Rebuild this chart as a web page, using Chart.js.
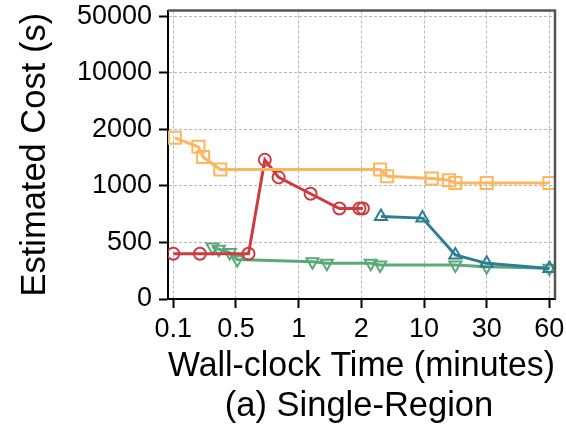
<!DOCTYPE html>
<html>
<head>
<meta charset="utf-8">
<script src="https://cdn.jsdelivr.net/npm/chart.js@4.4.1/dist/chart.umd.min.js"></script>
<style>
  html, body { margin: 0; padding: 0; background: #fff; }
  #wrap { width: 566px; height: 427px; }
</style>
</head>
<body>
<div id="wrap"><canvas id="costChart" width="566" height="427"></canvas></div>
<script>
// axis ticks are evenly spaced, values between them are placed linearly
const xTicks = [0.1, 0.5, 1, 2, 10, 30, 60];
const yTicks = [0, 500, 1000, 2000, 10000, 50000];

const orangeTime = [0.11, 0.26, 0.29, 0.4, 4.4, 5.3, 12.5, 18, 20, 30, 60];
const orangeCost = [1850, 1690, 1510, 1290, 1290, 1170, 1130, 1100, 1050, 1050, 1050];

const redTime = [0.1, 0.27, 0.6, 0.73, 0.84, 1.19, 1.65, 1.97, 2.2];
const redCost = [400, 400, 400, 1460, 1150, 930, 800, 800, 800];

const blueTime = [4.5, 9.8, 20, 30, 60];
const blueCost = [730, 715, 390, 315, 270];

const greenTime = [0.35, 0.39, 0.46, 0.51, 1.22, 1.45, 3.2, 4.4, 20, 30, 60];
const greenCost = [460, 440, 410, 350, 330, 315, 315, 300, 300, 285, 272];

const xTitle = "Wall-clock Time (minutes)";
const yTitle = "Estimated Cost (s)";
const captionText = "(a) Single-Region";

const FONT = "'Liberation Sans', Arial, Helvetica, sans-serif";

function pos(v, ticks) {
  for (let i = 0; i < ticks.length - 1; i++) {
    if (v <= ticks[i + 1] || i === ticks.length - 2) {
      return i + (v - ticks[i]) / (ticks[i + 1] - ticks[i]);
    }
  }
}

function toPoints(xs, ys) {
  return xs.map((x, i) => ({ x: pos(x, xTicks), y: pos(ys[i], yTicks) }));
}

function series(xs, ys, color, style, radius, rotation) {
  return {
    data: toPoints(xs, ys),
    borderColor: color,
    borderWidth: 3,
    pointStyle: style,
    pointRadius: radius,
    pointRotation: rotation || 0,
    pointBorderColor: color,
    pointBackgroundColor: "rgba(0,0,0,0)",
    pointBorderWidth: 2,
    tension: 0
  };
}

const captionPlugin = {
  id: "caption",
  afterDraw(chart) {
    const c = chart.ctx;
    const area = chart.chartArea;
    c.save();
    // top and right frame
    c.strokeStyle = "#555";
    c.lineWidth = 2.5;
    c.beginPath();
    c.moveTo(area.left, area.top);
    c.lineTo(area.right, area.top);
    c.lineTo(area.right, area.bottom);
    c.stroke();
    c.font = "34.5px " + FONT;
    c.fillStyle = "#000";
    c.textAlign = "center";
    c.textBaseline = "middle";
    c.fillText(captionText, 359, 406);
    c.restore();
  }
};

const gridOpts = {
  color: "#b8b8b8",
  lineWidth: 1,
  drawTicks: true,
  tickLength: 9,
  tickColor: "#000",
  tickWidth: 2
};

new Chart(document.getElementById("costChart"), {
  type: "line",
  data: {
    datasets: [
      series(orangeTime, orangeCost, "#fdb55e", "rect", 8.5),
      series(redTime, redCost, "#cf3a3f", "circle", 6),
      series(blueTime, blueCost, "#2d7d94", "triangle", 7),
      series(greenTime, greenCost, "#5aa979", "triangle", 7, 180)
    ]
  },
  options: {
    responsive: false,
    animation: false,
    devicePixelRatio: 1,
    layout: { padding: { top: 10, right: 11, bottom: 0, left: 0 } },
    plugins: { legend: { display: false }, tooltip: { enabled: false } },
    scales: {
      x: {
        type: "linear",
        min: -0.085,
        max: 6.09,
        afterBuildTicks: s => { s.ticks = xTicks.map((v, i) => ({ value: i })); },
        afterFit: s => { s.height = 128; s.paddingLeft = 0; s.paddingRight = 0; },
        ticks: {
          callback: v => String(xTicks[v]),
          color: "#000",
          font: { family: FONT, size: 27 },
          padding: 5,
          maxRotation: 0
        },
        grid: gridOpts,
        border: { display: true, color: "#000", width: 2, dash: [3, 2] },
        title: {
          display: true,
          text: xTitle,
          color: "#000",
          font: { family: FONT, size: 34.5 },
          padding: { top: 0, bottom: 40 }
        }
      },
      y: {
        type: "linear",
        min: 0,
        max: 5.1,
        afterBuildTicks: s => { s.ticks = yTicks.map((v, i) => ({ value: i })); },
        afterFit: s => { s.width = 168; s.paddingTop = 0; s.paddingBottom = 0; },
        ticks: {
          callback: v => String(yTicks[v]),
          color: "#000",
          font: { family: FONT, size: 27 },
          padding: 7
        },
        grid: gridOpts,
        border: { display: true, color: "#000", width: 2, dash: [3, 2] },
        title: {
          display: true,
          text: yTitle,
          color: "#000",
          font: { family: FONT, size: 34.5 },
          padding: { top: 15, bottom: 0 }
        }
      }
    }
  },
  plugins: [captionPlugin]
});
</script>
</body>
</html>
